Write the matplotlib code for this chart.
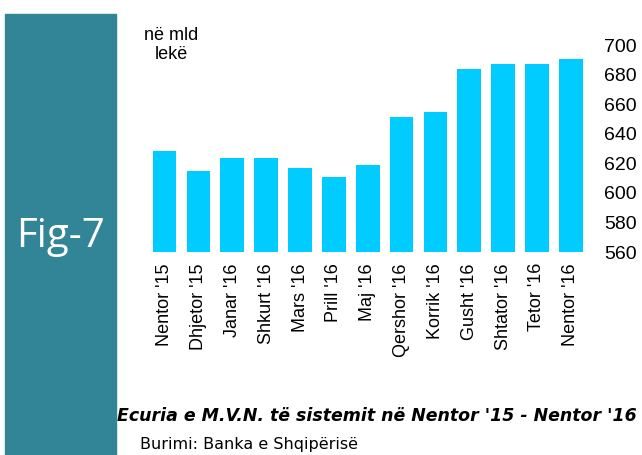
import matplotlib
matplotlib.use("Agg")
import matplotlib.pyplot as plt
from matplotlib.patches import Rectangle

categories = ["Nentor '15", "Dhjetor '15", "Janar '16", "Shkurt '16", "Mars '16",
              "Prill '16", "Maj '16", "Qershor '16", "Korrik '16", "Gusht '16",
              "Shtator '16", "Tetor '16", "Nentor '16"]
values = [628.5, 615, 623.7, 623.7, 617, 611, 619, 651.4, 654.8, 683.9, 687.3, 687.3, 690.6]
yticks = [560, 580, 600, 620, 640, 660, 680, 700]

BAR = "#00CCFF"
TEAL = "#328597"
FONT = "Liberation Sans"

fig = plt.figure(figsize=(6.42, 4.55), dpi=100)
W, H = 642, 455

# left teal panel
fig.patches.append(Rectangle((5 / W, 0), (116 - 5) / W, (455 - 14) / H,
                             transform=fig.transFigure, color=TEAL, zorder=0))
fig.text(60 / W, 1 - 237 / H, "Fig-7", color="white", fontsize=29,
         family="Open Sans", ha="center", va="center")

ax = fig.add_axes([147.7 / W, 203 / H, 440 / W, 207 / H])
x = range(len(categories))
ax.bar(x, values, width=0.7, color=BAR)
ax.set_ylim(560, 700)
ax.set_xlim(-0.5, len(categories) - 0.5)
ax.set_yticks(yticks)
ax.set_yticklabels([str(v) for v in yticks], family=FONT, fontsize=14)
ax.yaxis.tick_right()
ax.tick_params(axis="y", length=0, pad=12)
ax.set_xticks(list(x))
ax.set_xticklabels(categories, rotation=90, family=FONT, fontsize=13)
ax.tick_params(axis="x", length=0, pad=8)
for s in ax.spines.values():
    s.set_visible(False)
ax.patch.set_visible(False)

fig.text(171 / W, 1 - 45 / H, "në mld\nlekë", family=FONT, fontsize=13,
         ha="center", va="center", linespacing=1.15)

fig.text(637 / W, 1 - 416 / H, "Ecuria e M.V.N. të sistemit në Nentor '15 - Nentor '16",
         family="DejaVu Sans", fontsize=12.5, fontweight="bold", fontstyle="italic",
         ha="right", va="center")
fig.text(140 / W, 1 - 445 / H, "Burimi: Banka e Shqipërisë", family="DejaVu Sans",
         fontsize=11.5, ha="left", va="center")

fig.savefig("out.png", dpi=100)
